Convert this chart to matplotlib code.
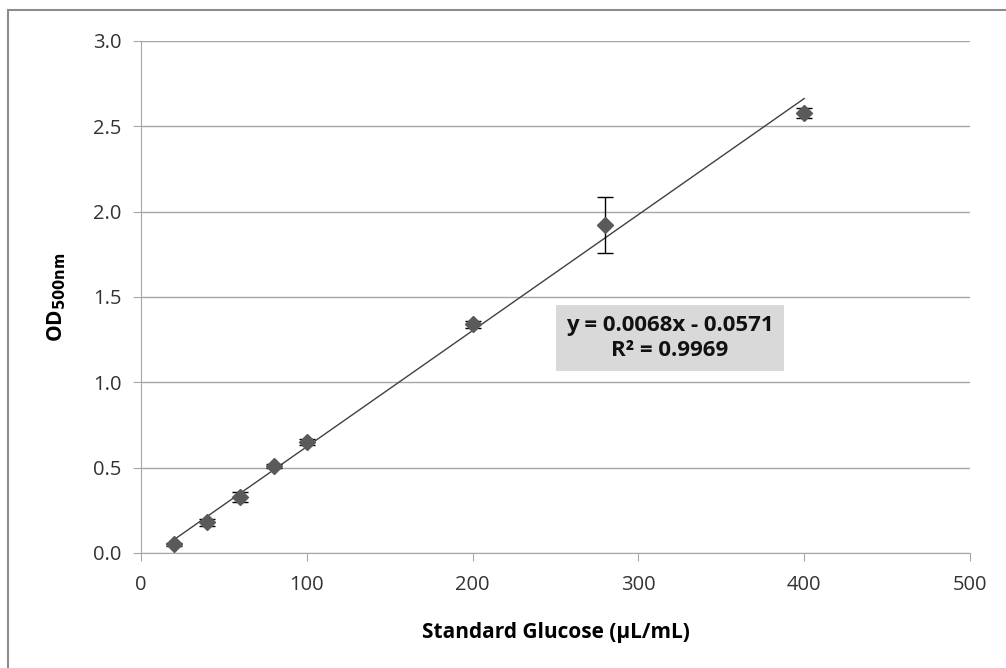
import matplotlib.pyplot as plt
from matplotlib.patches import Rectangle

# Standard curve data
glucose = [20, 40, 60, 80, 100, 200, 280, 400]
od = [0.05, 0.18, 0.33, 0.51, 0.65, 1.34, 1.92, 2.58]
od_err = [0.01, 0.02, 0.03, 0.01, 0.02, 0.02, 0.165, 0.03]

slope = 0.0068
intercept = -0.0571
fit_x = [20, 400]

plt.rcParams['font.family'] = ['Open Sans', 'DejaVu Sans']

fig = plt.figure(figsize=(10.06, 6.68), dpi=100)
ax = fig.add_axes([141 / 1006, 1 - 553 / 668, 829 / 1006, 512 / 668])

# outer chart border (top and left visible only)
fig.add_artist(Rectangle((8 / 1006, -0.1), 1.2, (1 - 10 / 668) + 0.1,
                         transform=fig.transFigure, facecolor='none',
                         edgecolor='#8c8c8c', linewidth=1.5))

ax.plot(fit_x, [slope * x + intercept for x in fit_x], color='#404040', linewidth=1.0, zorder=2)
ax.errorbar(glucose, od, yerr=od_err, fmt='D', color='#5a5a5a', markersize=8,
            ecolor='black', elinewidth=1.0, capsize=6, capthick=1.0, zorder=3)

ax.set_xlim(0, 500)
ax.set_ylim(0, 3.0)
ax.set_xticks(range(0, 501, 100))
ax.set_yticks([0, 0.5, 1.0, 1.5, 2.0, 2.5, 3.0])
ax.set_yticklabels(['%.1f' % v for v in ax.get_yticks()])
ax.yaxis.grid(True, color='#a6a6a6', linewidth=1.0)
ax.set_axisbelow(True)

for side in ['top', 'right']:
    ax.spines[side].set_visible(False)
ax.spines['left'].set_color('#a6a6a6')
ax.spines['bottom'].set_color('#a6a6a6')
ax.tick_params(axis='both', colors='#a6a6a6', labelcolor='#333333', labelsize=14.5,
               length=6, direction='out')
ax.tick_params(axis='y', pad=8)
ax.tick_params(axis='x', pad=10)

ax.set_xlabel('Standard Glucose (µL/mL)', fontsize=15, fontweight='bold', labelpad=19)
ax.set_ylabel(r'OD$_{\mathbf{500nm}}$', fontsize=15, fontweight='bold', labelpad=18)

ax.text(319, 1.257, 'y = 0.0068x - 0.0571\nR² = 0.9969', ha='center', va='center',
        fontsize=16, fontweight='bold', color='#111111', linespacing=1.25,
        bbox=dict(boxstyle='square,pad=0.45', facecolor='#d9d9d9', edgecolor='none'))

fig.savefig('out.png', dpi=100)
